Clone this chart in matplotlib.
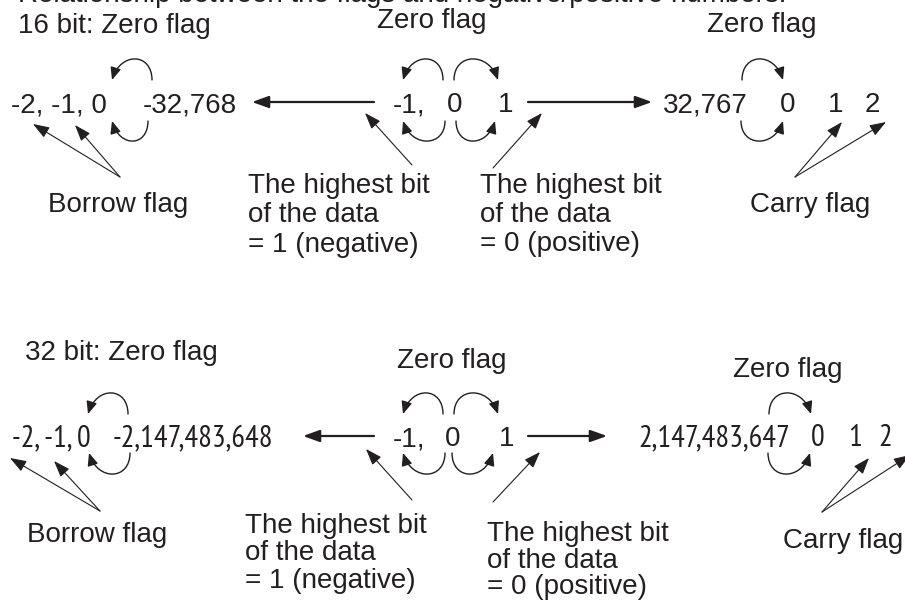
import matplotlib
matplotlib.use("Agg")
import matplotlib.pyplot as plt
from matplotlib.patches import FancyArrowPatch, ArrowStyle
from matplotlib.path import Path

INK = "#231f20"
FONT = ["Liberation Sans", "DejaVu Sans"]
NARROW = ["PT Sans Narrow", "Roboto Condensed", "Archivo Narrow",
          "IBM Plex Sans Condensed", "Liberation Sans"]

# texts
top_line = "Relationship between the flags and negative/positive numbers:"
titles = ["16 bit: Zero flag", "32 bit: Zero flag"]
zero_flag = "Zero flag"
borrow = "Borrow flag"
carry = "Carry flag"
neg_note = ["The highest bit", "of the data", "= 1 (negative)"]
pos_note = ["The highest bit", "of the data", "= 0 (positive)"]

row16_low = ["-2, -1, 0", "-32,768"]
row16_mid = ["-1,", "0", "1"]
row16_high = ["32,767", "0", "1", "2"]
row32_low = ["-2, -1, 0", "-2,147,483,648"]
row32_mid = ["-1,", "0", "1"]
row32_high = ["2,147,483,647", "0", "1", "2"]

fig = plt.figure(figsize=(9.05, 6.01), dpi=100)
ax = fig.add_axes([0, 0, 1, 1])
ax.set_xlim(0, 905)
ax.set_ylim(601, 0)
ax.axis("off")


def txt(x, y, s, ha="left", fam=FONT, size=20):
    ax.text(x, y, s, ha=ha, va="baseline", fontsize=size, family=fam,
            color=INK, clip_on=False)


def straight(p0, p1, lw=0.8, hl=10.0, hw=3.6):
    st = ArrowStyle("-|>", head_length=hl, head_width=hw)
    ax.add_patch(FancyArrowPatch(p0, p1, arrowstyle=st, lw=lw, color=INK,
                                 shrinkA=0, shrinkB=0, mutation_scale=1))


def curl(x0, x1, y, h):
    # half loop from x0 to x1, bulging by h (negative = upwards)
    d = 0.22 * (x0 - x1)
    verts = [(x0, y), (x0, y + h * 1.3), (x1 + d, y + h * 1.35), (x1, y)]
    path = Path(verts, [Path.MOVETO, Path.CURVE4, Path.CURVE4, Path.CURVE4])
    st = ArrowStyle("-|>", head_length=7.5, head_width=3.2)
    ax.add_patch(FancyArrowPatch(path=path, arrowstyle=st, lw=1.0, color=INK,
                                 shrinkA=0, shrinkB=0, mutation_scale=1))


# cut-off caption at the very top
txt(18, 2, top_line)

# ---------------- 16 bit ----------------
txt(18, 33, titles[0])
txt(377, 28, zero_flag)
txt(707, 32, zero_flag)

txt(11, 112, row16_low[0])
txt(143, 112, row16_low[1])
txt(393, 112, row16_mid[0])
txt(455, 112, row16_mid[1], ha="center")
txt(506, 112, row16_mid[2], ha="center")
txt(663, 112, row16_high[0])
txt(788, 112, row16_high[1], ha="center")
txt(836, 112, row16_high[2], ha="center")
txt(872, 112, row16_high[3], ha="center")

straight((374, 102), (252, 102), lw=1.6)
straight((528, 102), (652, 102), lw=1.6)

curl(152, 112, 80, -21)
curl(148, 112, 121, 20)
curl(443, 403, 80, -21)
curl(454, 498, 80, -21)
curl(445, 403, 121, 20)
curl(456, 495, 121, 20)
curl(742, 783, 80, -21)
curl(741, 783, 121, 20)

straight((120, 177), (33, 124))
straight((120, 177), (75, 125))
straight((412, 165), (365, 113))
straight((493, 168), (542, 113))
straight((795, 177), (842, 122))
straight((795, 177), (886, 122))

txt(48, 212, borrow)
txt(750, 212, carry)
for i, s in enumerate(neg_note):
    txt(248, 193 + 29.5 * i, s)
for i, s in enumerate(pos_note):
    txt(480, 193 + 29 * i, s)

# ---------------- 32 bit ----------------
txt(25, 360, titles[1])
txt(397, 368, zero_flag)
txt(733, 377, zero_flag)

txt(12, 446, row32_low[0], fam=NARROW, size=22)
txt(113, 446, row32_low[1], fam=NARROW, size=22)
txt(393, 446, row32_mid[0])
txt(453, 446, row32_mid[1], ha="center")
txt(507, 446, row32_mid[2], ha="center")
txt(638, 446, row32_high[0], fam=NARROW, size=22)
txt(818, 446, row32_high[1], ha="center", fam=NARROW, size=22)
txt(855, 446, row32_high[2], ha="center", fam=NARROW, size=22)
txt(885, 446, row32_high[3], ha="center", fam=NARROW, size=22)

straight((374, 436), (303, 436), lw=1.6)
straight((528, 436), (607, 436), lw=1.6)

curl(128, 88, 414, -21)
curl(130, 89, 453, 21)
curl(443, 403, 414, -21)
curl(454, 498, 414, -21)
curl(445, 403, 453, 21)
curl(452, 493, 453, 21)
curl(769, 811, 414, -21)
curl(768, 810, 453, 21)

straight((100, 511), (10, 458))
straight((100, 511), (54, 461))
straight((412, 500), (366, 449))
straight((493, 502), (540, 452))
straight((822, 512), (869, 458))
straight((822, 512), (910, 455))

txt(27, 542, borrow)
txt(783, 548, carry)
for i, s in enumerate(neg_note):
    txt(245, 533 + 27.5 * i, s)
for i, s in enumerate(pos_note):
    txt(487, 541 + 26.5 * i, s)

fig.savefig("out.png", dpi=100, facecolor="white")
